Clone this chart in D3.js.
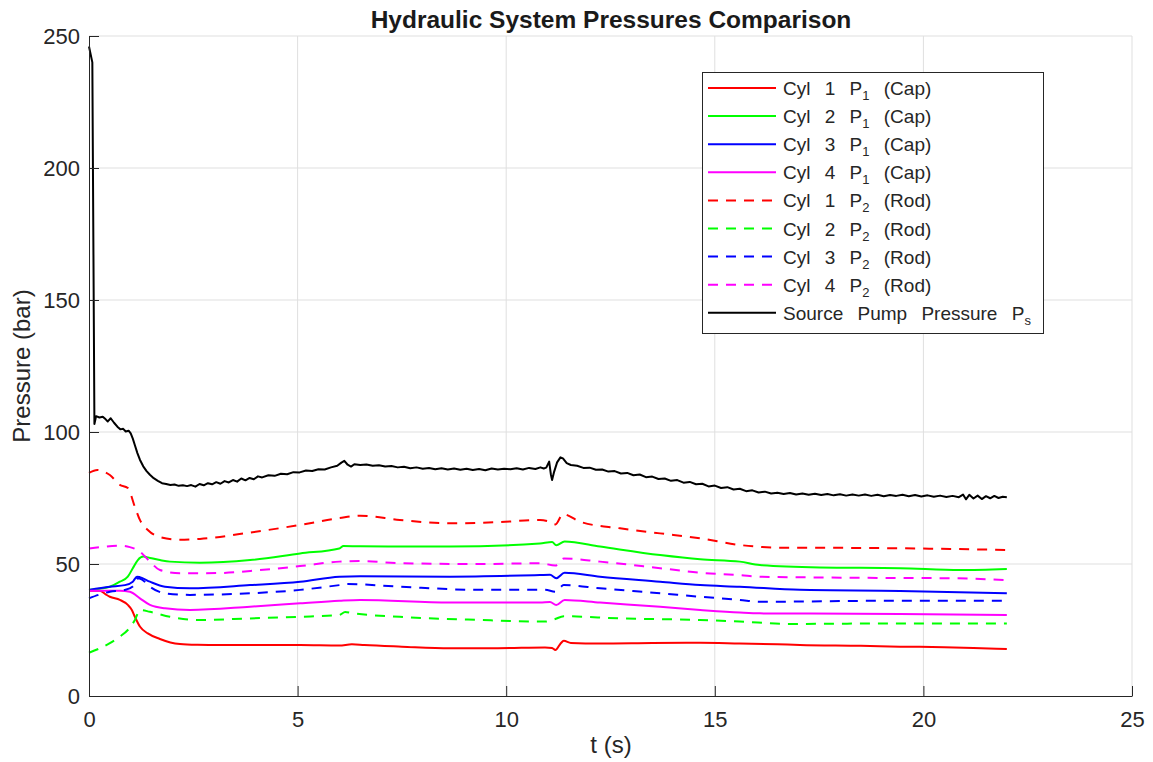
<!DOCTYPE html>
<html>
<head>
<meta charset="utf-8">
<script src="https://cdn.jsdelivr.net/npm/d3@7"></script>
<style>
  html, body { margin: 0; padding: 0; background: #fff; }
  svg { display: block; font-family: "Liberation Sans", Arial, Helvetica, sans-serif; }
</style>
</head>
<body>
<svg id="chart" width="1153" height="762"></svg>
<script>
// ---- data: [time (s), pressure (bar)] ----
const cyl1P1 = [[0,39.9],[0.26,39.9],[0.4,38.5],[0.5,37.6],[0.74,36.4],[0.93,34.5],[1.03,32.5],[1.1,30],[1.22,26.3],[1.41,23.7],[1.7,21.6],[1.95,20.3],[2.18,19.7],[2.6,19.4],[3.14,19.3],[4,19.3],[5.06,19.3],[6.0,19.1],[6.3,19.6],[6.6,19.3],[7.5,18.7],[8.65,18.1],[9.8,18.1],[10.93,18.4],[11.1,18.2],[11.18,17.4],[11.3,19.8],[11.38,20.9],[11.55,20.1],[12.25,19.9],[13.5,20.1],[14.65,20.2],[15.6,19.9],[16.5,19.6],[17.04,19.3],[18.5,19],[19.44,18.7],[20.5,18.5],[21.2,18.2],[22,17.8]];
const cyl2P1 = [[0,40.2],[0.5,41.4],[0.74,43.3],[0.93,45.2],[1.05,48.4],[1.17,51.5],[1.3,52.8],[1.46,52.3],[1.7,51.5],[1.94,50.9],[2.66,50.5],[3.86,51.5],[5.06,54],[6.0,55.9],[6.1,56.8],[6.5,56.7],[8.65,56.6],[10.81,57.8],[11.1,58.3],[11.2,57.1],[11.4,58.5],[12.25,56.6],[13.69,53.4],[14.65,51.8],[15.6,50.9],[16.08,49.6],[17.52,48.7],[19.44,48.4],[20.88,47.7],[22,48.1]];
const cyl3P1 = [[0,40.2],[0.5,41.4],[0.86,42],[1.05,43.3],[1.15,45.2],[1.22,45],[1.46,43.3],[1.82,41.4],[2.42,40.8],[3.86,42],[5.06,43.3],[6.0,45.2],[6.5,45.4],[8.65,45.2],[10.81,45.8],[11.05,45.9],[11.2,44.6],[11.4,46.7],[12.25,45.2],[13.69,43.3],[14.65,42],[15.6,41.4],[17.04,40.2],[19.44,39.8],[22,38.9]];
const cyl4P1 = [[0,39.9],[0.74,39.9],[0.98,39.5],[1.22,37],[1.46,34.5],[1.82,33.2],[2.42,32.6],[3.86,33.8],[5.06,35.1],[6.0,36.1],[6.5,36.4],[8.65,35.4],[10.81,35.4],[11.05,35.6],[11.2,34.5],[11.4,36.4],[12.25,35.4],[13.69,33.8],[14.65,32.6],[15.6,31.6],[16.08,31.3],[19.44,31.1],[22,30.7]];
const cyl1P2 = [[0,84.5],[0.2,85.6],[0.5,83.7],[0.74,80],[0.93,78.8],[1.1,71.6],[1.22,66.7],[1.41,62.9],[1.7,60.2],[2.18,59.2],[2.66,59.5],[3.86,61.9],[5.06,64.8],[6.0,67.4],[6.5,68.3],[7.45,66.7],[8.65,65.4],[9.85,65.9],[10.81,66.7],[11.0,66.2],[11.18,65],[11.36,68.9],[11.77,66],[12.73,63.5],[13.69,61.6],[14.65,59.7],[15.6,57.2],[16.56,56.2],[18.24,56.1],[20.64,55.7],[22,55.3]];
const cyl2P2 = [[0,16.4],[0.5,20],[0.74,22.5],[0.93,25],[1.1,28.8],[1.22,32.6],[1.46,31.9],[1.94,30],[2.66,28.8],[3.86,29.4],[5.06,30],[6.0,30.7],[6.14,31.8],[6.3,31.4],[7.45,30],[9.37,28.8],[10.93,28.2],[11.15,29],[11.38,30.2],[12.73,29.4],[14.65,28.8],[15.6,28.2],[16.8,27.3],[19.44,27.5],[22,27.5]];
const cyl3P2 = [[0,37],[0.5,39.5],[0.86,40.2],[1.05,41.5],[1.17,44.6],[1.26,44.2],[1.46,41.4],[1.82,38.9],[2.42,38.3],[3.86,38.9],[5.06,40.2],[6.0,42],[6.2,42.4],[7.45,41.4],[9.37,40.2],[10.93,40.2],[11.18,39.5],[11.38,42],[12.25,40.8],[13.69,38.9],[14.65,37.6],[15.6,36.4],[16.08,35.7],[19.44,36.1],[22,36.1]];
const cyl4P2 = [[0,55.9],[0.26,56.4],[0.74,56.9],[0.98,56.4],[1.22,54.7],[1.46,50.9],[1.7,47.7],[2.18,46.5],[3.14,46.6],[4.1,47.7],[5.06,49.2],[6.0,50.9],[6.5,51.1],[7.45,50.3],[9.37,50],[10.81,50.3],[11.18,49.4],[11.38,52.1],[12.25,50.9],[13.69,48.4],[14.65,46.7],[15.6,45.8],[16.08,45.2],[18.24,44.8],[20.64,44.6],[22,43.9]];
const sourcePs = [[0,246],[0.08,240],[0.13,103],[0.17,106],[0.25,105.5],[0.33,105.8],[0.4,104.8],[0.45,104],[0.52,105.2],[0.6,103.5],[0.68,102],[0.75,101],[0.82,101.2],[0.88,100.2],[0.95,100.5],[1.0,99.5],[1.05,97.5],[1.1,95],[1.16,92],[1.22,89.5],[1.3,87],[1.38,85.2],[1.46,83.8],[1.55,82.5],[1.65,81.5],[1.75,80.6],[1.85,80.3],[1.95,79.9],[2.05,80.1],[2.15,79.6],[2.25,79.8],[2.35,79.5],[2.45,79.9],[2.55,79.3],[2.65,80.3],[2.75,79.8],[2.85,80.6],[2.95,80.2],[3.05,81],[3.15,80.4],[3.25,81.4],[3.35,80.9],[3.45,81.8],[3.55,81.2],[3.65,82.4],[3.75,81.7],[3.85,82.6],[3.95,82.1],[4.05,83.2],[4.15,82.8],[4.3,83.6],[4.45,83.4],[4.6,84.2],[4.75,84],[4.9,84.8],[5.05,84.7],[5.2,85.4],[5.35,85.2],[5.5,85.9],[5.65,85.8],[5.8,86.6],[5.95,87.2],[6.05,88.4],[6.12,89.1],[6.2,87.6],[6.28,86.9],[6.36,87.8],[6.5,87.5],[6.65,87.7],[6.8,87.2],[6.95,87.4],[7.1,86.9],[7.25,87.1],[7.4,86.6],[7.55,86.8],[7.7,86.3],[7.85,86.6],[8.0,86.1],[8.15,86.4],[8.3,85.9],[8.45,86.3],[8.6,85.8],[8.75,86.2],[8.9,85.7],[9.05,86.1],[9.2,85.6],[9.35,86],[9.5,85.5],[9.65,86.2],[9.8,85.8],[9.95,86.1],[10.1,85.9],[10.25,86.3],[10.4,85.8],[10.55,86.4],[10.7,86],[10.82,86.6],[10.9,86.2],[10.96,86.5],[11.03,88.8],[11.07,84],[11.1,81.8],[11.15,85],[11.22,88.5],[11.3,90.4],[11.36,90],[11.45,88.2],[11.55,87.5],[11.7,87.2],[11.85,86.4],[12.0,86.5],[12.15,85.7],[12.3,85.8],[12.45,85],[12.6,85.2],[12.75,84.3],[12.9,84.5],[13.05,83.6],[13.2,83.9],[13.35,82.9],[13.5,83.1],[13.65,82.2],[13.8,82.4],[13.95,81.5],[14.1,81.8],[14.25,80.8],[14.4,81.1],[14.55,80.2],[14.7,80.4],[14.85,79.4],[15.0,79.7],[15.15,78.8],[15.3,79.1],[15.45,78.2],[15.6,78.5],[15.75,77.6],[15.9,77.9],[16.05,77.1],[16.2,77.4],[16.35,76.7],[16.5,77],[16.65,76.5],[16.8,76.9],[16.95,76.3],[17.1,76.7],[17.25,76.2],[17.4,76.6],[17.55,76.1],[17.7,76.5],[17.85,76],[18.0,76.4],[18.15,75.9],[18.3,76.3],[18.45,75.9],[18.6,76.3],[18.75,75.8],[18.9,76.2],[19.05,75.7],[19.2,76.1],[19.35,75.8],[19.5,76.2],[19.65,75.7],[19.8,76.1],[19.95,75.6],[20.1,76],[20.25,75.5],[20.4,75.9],[20.55,75.4],[20.7,75.8],[20.85,75.3],[20.95,76.3],[21.02,74.5],[21.1,76.2],[21.2,74.8],[21.3,75.9],[21.4,74.6],[21.5,75.7],[21.6,74.9],[21.7,75.8],[21.8,75],[21.9,75.5],[22.0,75.3]];

const xTicks = [0, 5, 10, 15, 20, 25];
const yTicks = [0, 50, 100, 150, 200, 250];

// series: legend label = name + subscript + tail
const seriesList = [
  { data: cyl1P1, color: "#ff0000", dashed: false, name: "Cyl 1 P", sub: "1", tail: " (Cap)" },
  { data: cyl2P1, color: "#00ff00", dashed: false, name: "Cyl 2 P", sub: "1", tail: " (Cap)" },
  { data: cyl3P1, color: "#0000ff", dashed: false, name: "Cyl 3 P", sub: "1", tail: " (Cap)" },
  { data: cyl4P1, color: "#ff00ff", dashed: false, name: "Cyl 4 P", sub: "1", tail: " (Cap)" },
  { data: cyl1P2, color: "#ff0000", dashed: true,  name: "Cyl 1 P", sub: "2", tail: " (Rod)" },
  { data: cyl2P2, color: "#00ff00", dashed: true,  name: "Cyl 2 P", sub: "2", tail: " (Rod)" },
  { data: cyl3P2, color: "#0000ff", dashed: true,  name: "Cyl 3 P", sub: "2", tail: " (Rod)" },
  { data: cyl4P2, color: "#ff00ff", dashed: true,  name: "Cyl 4 P", sub: "2", tail: " (Rod)" },
  { data: sourcePs, color: "#000000", dashed: false, name: "Source Pump Pressure P", sub: "s", tail: "", noisy: true }
];

// ---- layout ----
const svg = d3.select("#chart");
const plotL = 89, plotR = 1132, plotT = 36, plotB = 696;
const axisColor = "#262626";
const gridColor = "#dfdfdf";
const dash = "10,8";

const x = d3.scaleLinear().domain([0, 25]).range([plotL, plotR]);
const y = d3.scaleLinear().domain([0, 250]).range([plotB, plotT]);

// grid
const grid = svg.append("g");
grid.selectAll("line.gx").data(xTicks.filter(d => d > 0)).join("line")
  .attr("x1", d => x(d)).attr("x2", d => x(d)).attr("y1", plotT).attr("y2", plotB)
  .attr("stroke", gridColor).attr("stroke-width", 1);
grid.selectAll("line.gy").data(yTicks.filter(d => d > 0)).join("line")
  .attr("x1", plotL).attr("x2", plotR).attr("y1", d => y(d)).attr("y2", d => y(d))
  .attr("stroke", gridColor).attr("stroke-width", 1);

// lines
const plot = svg.append("g");
seriesList.forEach(s => {
  const gen = d3.line().x(d => x(d[0])).y(d => y(d[1]))
    .curve(s.noisy ? d3.curveLinear : d3.curveMonotoneX);
  plot.append("path").datum(s.data)
    .attr("d", gen)
    .attr("fill", "none")
    .attr("stroke", s.color)
    .attr("stroke-width", 2)
    .attr("stroke-linejoin", "round")
    .attr("stroke-dasharray", s.dashed ? dash : null);
});

// axes (ticks pointing inward)
const xAxis = d3.axisBottom(x).tickValues(xTicks).tickSizeInner(-10).tickSizeOuter(0).tickPadding(15);
const yAxis = d3.axisLeft(y).tickValues(yTicks).tickSizeInner(-10).tickSizeOuter(0).tickPadding(9);

const gx = svg.append("g").attr("transform", `translate(0,${plotB})`).call(xAxis);
const gy = svg.append("g").attr("transform", `translate(${plotL},0)`).call(yAxis);
[gx, gy].forEach(g => {
  g.select(".domain").attr("stroke", axisColor).attr("stroke-width", 1);
  g.selectAll(".tick line").attr("stroke", axisColor).attr("stroke-width", 1);
  g.selectAll(".tick text").attr("fill", axisColor).attr("font-size", 22)
    .attr("font-family", "'Liberation Sans', Arial, sans-serif");
});
gy.selectAll(".tick text").attr("dy", "0.35em");

// titles
svg.append("text").attr("x", 611).attr("y", 28).attr("text-anchor", "middle")
  .attr("font-size", 24.5).attr("font-weight", "bold").attr("fill", "#1a1a1a")
  .text("Hydraulic System Pressures Comparison");
svg.append("text").attr("x", 611).attr("y", 753).attr("text-anchor", "middle")
  .attr("font-size", 24).attr("fill", axisColor).text("t (s)");
svg.append("text").attr("transform", `translate(30,${(plotT + plotB) / 2}) rotate(-90)`)
  .attr("text-anchor", "middle").attr("font-size", 24).attr("fill", axisColor)
  .text("Pressure (bar)");

// legend
const lg = svg.append("g");
const lgX = 702, lgY = 72, lgW = 341, lgH = 261, rowH = 28.1, firstRow = 88;
lg.append("rect").attr("x", lgX + 0.5).attr("y", lgY + 0.5).attr("width", lgW).attr("height", lgH)
  .attr("fill", "#fff").attr("stroke", axisColor).attr("stroke-width", 1);
seriesList.forEach((s, i) => {
  const ry = firstRow + i * rowH;
  lg.append("line").attr("x1", 708).attr("x2", 776).attr("y1", ry).attr("y2", ry)
    .attr("stroke", s.color).attr("stroke-width", 2)
    .attr("stroke-dasharray", s.dashed ? dash : null);
  const t = lg.append("text").attr("x", 783).attr("y", ry + 7)
    .attr("font-size", 19).attr("fill", axisColor)
    .style("white-space", "pre").style("word-spacing", "9px");
  t.append("tspan").text(s.name);
  t.append("tspan").attr("font-size", 13).attr("dy", 5).text(s.sub);
  if (s.tail) t.append("tspan").attr("dy", -5).text(s.tail);
});
</script>
</body>
</html>
